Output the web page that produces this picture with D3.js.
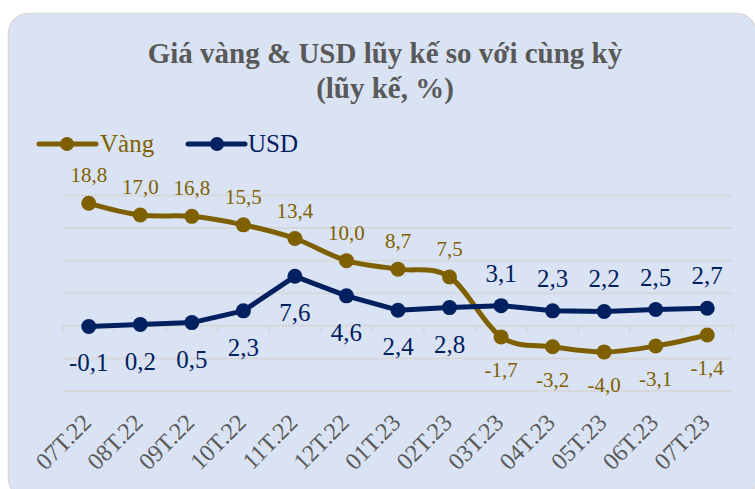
<!DOCTYPE html>
<html>
<head>
<meta charset="utf-8">
<script src="https://cdn.jsdelivr.net/npm/d3@7"></script>
<style>
  html, body { margin: 0; padding: 0; background: #ffffff; }
  svg { display: block; }
</style>
</head>
<body>
<svg id="chart" width="755" height="489"></svg>
<script>
const categories = ["07T.22","08T.22","09T.22","10T.22","11T.22","12T.22","01T.23","02T.23","03T.23","04T.23","05T.23","06T.23","07T.23"];
const goldValues = [18.8, 17.0, 16.8, 15.5, 13.4, 10.0, 8.7, 7.5, -1.7, -3.2, -4.0, -3.1, -1.4];
const usdValues = [-0.1, 0.2, 0.5, 2.3, 7.6, 4.6, 2.4, 2.8, 3.1, 2.3, 2.2, 2.5, 2.7];
const yTicks = [-10, -5, 0, 5, 10, 15, 20];
const seriesNames = ["Vàng", "USD"];
const titleLines = ["Giá vàng & USD lũy kế so với cùng kỳ", "(lũy kế, %)"];

const GOLD = "#7f6000", NAVY = "#002060", GRAY = "#595959", GRID = "#d6d8dc";
const serif = "'Liberation Serif', 'Times New Roman', serif";

const svg = d3.select("#chart");

// card
svg.append("rect")
  .attr("x", 8.5).attr("y", 13.5).attr("width", 748).attr("height", 485)
  .attr("rx", 20).attr("ry", 20)
  .attr("fill", "#dae3f3").attr("stroke", "#d9d9d9").attr("stroke-width", 1.5);

// title
svg.append("text")
  .attr("x", 385).attr("y", 63)
  .attr("text-anchor", "middle")
  .attr("font-family", serif).attr("font-weight", "bold").attr("font-size", 29)
  .attr("fill", GRAY)
  .selectAll("tspan").data(titleLines).join("tspan")
  .attr("x", 385).attr("dy", (d, i) => i === 0 ? 0 : 35)
  .text(d => d);

const x = d3.scaleBand().domain(categories).range([63, 733]);
const y = d3.scaleLinear().domain([-10, 20]).range([391, 195.5]);
const cx = c => x(c) + x.bandwidth() / 2;

// gridlines
svg.append("g").selectAll("line").data(yTicks).join("line")
  .attr("x1", 63).attr("x2", 733)
  .attr("y1", d => y(d)).attr("y2", d => y(d))
  .attr("stroke", GRID).attr("stroke-width", 2);

// x axis at zero with outside ticks
const xAxis = svg.append("g").attr("transform", `translate(0,${y(0)})`)
  .call(d3.axisBottom(x).tickSize(0).tickFormat(""));
xAxis.select(".domain").remove();
const bounds = categories.map(c => x(c)).concat([x.range()[1]]);
xAxis.selectAll(".bt").data(bounds).join("line").attr("class", "bt")
  .attr("x1", d => d).attr("x2", d => d).attr("y1", 0).attr("y2", 7)
  .attr("stroke", GRID).attr("stroke-width", 2);

// rotated category labels
svg.append("g").selectAll("text").data(categories).join("text")
  .attr("transform", d => `translate(${cx(d) + 4},${424}) rotate(-45)`)
  .attr("text-anchor", "end")
  .attr("font-family", serif).attr("font-size", 24)
  .attr("fill", GRAY)
  .text(d => d);

const fmt = v => (v < 0 ? "-" : "") + d3.format(".1f")(Math.abs(v)).replace(".", ",");

const goldData = categories.map((c, i) => ({ c, v: goldValues[i] }));
const usdData = categories.map((c, i) => ({ c, v: usdValues[i] }));

// gold line (smoothed)
svg.append("path").datum(goldData)
  .attr("fill", "none").attr("stroke", GOLD).attr("stroke-width", 5)
  .attr("stroke-linejoin", "round")
  .attr("d", d3.line().x(d => cx(d.c)).y(d => y(d.v)).curve(d3.curveCardinal.tension(0)));
svg.append("g").selectAll("circle").data(goldData).join("circle")
  .attr("cx", d => cx(d.c)).attr("cy", d => y(d.v)).attr("r", 7.5)
  .attr("fill", GOLD);

// usd line
svg.append("path").datum(usdData)
  .attr("fill", "none").attr("stroke", NAVY).attr("stroke-width", 5)
  .attr("stroke-linejoin", "round")
  .attr("d", d3.line().x(d => cx(d.c)).y(d => y(d.v)));
svg.append("g").selectAll("circle").data(usdData).join("circle")
  .attr("cx", d => cx(d.c)).attr("cy", d => y(d.v)).attr("r", 7.5)
  .attr("fill", NAVY);

// gold labels
svg.append("g").selectAll("text").data(goldData).join("text")
  .attr("x", d => cx(d.c))
  .attr("y", d => d.v >= 0 ? y(d.v) - 21 : y(d.v) + 40)
  .attr("text-anchor", "middle")
  .attr("font-family", serif).attr("font-size", 21)
  .attr("fill", GOLD)
  .text(d => fmt(d.v));

// usd labels
svg.append("g").selectAll("text").data(usdData).join("text")
  .attr("x", d => cx(d.c))
  .attr("y", (d, i) => i < 8 ? y(d.v) + 45 : y(d.v) - 24)
  .attr("text-anchor", "middle")
  .attr("font-family", serif).attr("font-size", 25)
  .attr("fill", NAVY)
  .text(d => fmt(d.v));

// legend
const legend = [
  { name: seriesNames[0], color: GOLD, x1: 39, x2: 96, cx: 67, tx: 100 },
  { name: seriesNames[1], color: NAVY, x1: 188, x2: 245, cx: 217, tx: 248 }
];
const lg = svg.append("g").selectAll("g").data(legend).join("g");
lg.append("line")
  .attr("x1", d => d.x1).attr("x2", d => d.x2).attr("y1", 144).attr("y2", 144)
  .attr("stroke", d => d.color).attr("stroke-width", 5).attr("stroke-linecap", "round");
lg.append("circle").attr("cx", d => d.cx).attr("cy", 144).attr("r", 7).attr("fill", d => d.color);
lg.append("text").attr("x", d => d.tx).attr("y", 152)
  .attr("font-family", serif).attr("font-size", 25)
  .attr("fill", d => d.color).text(d => d.name);
</script>
</body>
</html>
